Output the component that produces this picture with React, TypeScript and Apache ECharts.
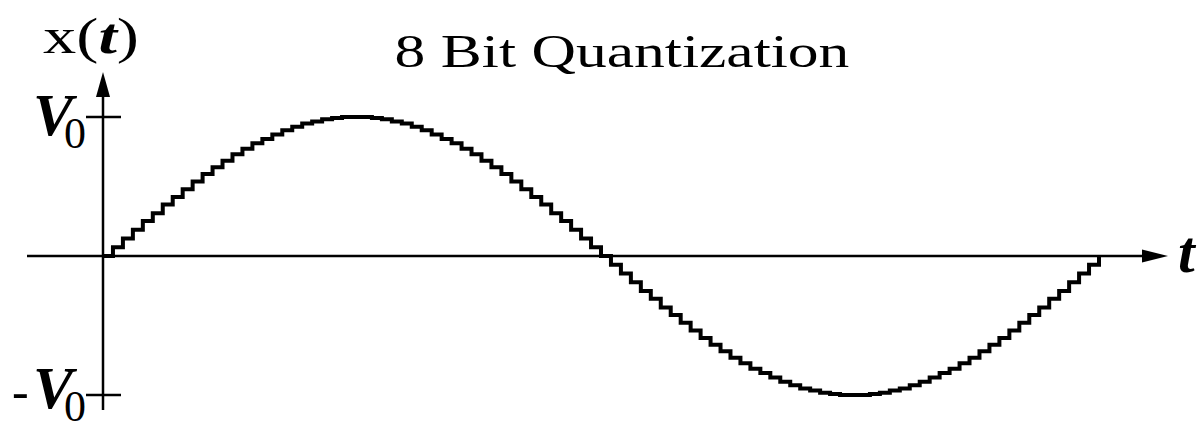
import React, { useEffect, useRef } from "react";
import * as echarts from "echarts";

// Quantized sample levels (8-bit, full scale ±127) over one period, one per sample slot.
const quantLevels = [
  0, 8, 16, 24, 32, 39, 47, 54, 61, 68, 75, 81, 87, 93, 98, 103, 107, 111, 115, 118,
  121, 123, 125, 126, 127, 127, 127, 126, 125, 123, 121, 118, 115, 111, 107, 103, 98,
  93, 87, 81, 75, 68, 61, 54, 47, 39, 32, 24, 16, 8, 0, -8, -16, -24, -32, -39, -47,
  -54, -61, -68, -75, -81, -87, -93, -98, -103, -107, -111, -115, -118, -121, -123,
  -125, -126, -127, -127, -127, -126, -125, -123, -121, -118, -115, -111, -107, -103,
  -98, -93, -87, -81, -75, -68, -61, -54, -47, -39, -32, -24, -16, -8, 0,
];

// Amplitude ticks on the vertical axis.
const amplitudeTicks = [127, -127];
const amplitudeLabels = ["V", "-V"];

const titleText = "8 Bit Quantization";
const xAxisName = "t";

const SERIF = "Liberation Serif";

export default function App() {
  const ref = useRef<HTMLDivElement>(null);

  useEffect(() => {
    if (!ref.current) return;
    const chart = echarts.init(ref.current, undefined, { renderer: "svg" });
    const data = quantLevels.map((v, i) => [i, v]);

    chart.setOption({
      animation: false,
      backgroundColor: "#ffffff",
      grid: { left: 103, right: 100, top: 117, bottom: 27 },
      xAxis: { type: "value", min: 0, max: quantLevels.length - 1, show: false },
      yAxis: { type: "value", min: -127, max: 127, show: false },
      series: [
        {
          type: "line",
          step: "end",
          data,
          symbol: "none",
          z: 5,
          lineStyle: { color: "#000", width: 4, join: "miter" },
        },
      ],
    });

    const [ox, oy] = chart.convertToPixel({ gridIndex: 0 }, [0, 0]);
    const tickYs = amplitudeTicks.map((v) => chart.convertToPixel({ yAxisIndex: 0 }, v) as number);

    const axisStyle = { stroke: "#000", lineWidth: 2.5 };
    const graphics: any[] = [
      // horizontal time axis with arrow
      { type: "line", shape: { x1: 27, y1: oy, x2: 1150, y2: oy }, style: axisStyle, z: 1 },
      {
        type: "polygon",
        shape: { points: [[1168, oy], [1142, oy - 6.5], [1142, oy + 6.5]] },
        style: { fill: "#000" },
        z: 1,
      },
      // vertical amplitude axis with arrow
      { type: "line", shape: { x1: ox, y1: 410, x2: ox, y2: 92 }, style: axisStyle, z: 1 },
      {
        type: "polygon",
        shape: { points: [[ox, 72], [ox - 7, 97], [ox + 7, 97]] },
        style: { fill: "#000" },
        z: 1,
      },
      // title
      {
        type: "text",
        x: 622,
        y: 51,
        scaleX: 1.31,
        style: {
          text: titleText,
          fontFamily: SERIF,
          fontSize: 47,
          fill: "#000",
          align: "center",
          verticalAlign: "middle",
        },
      },
      // vertical axis name x(t)
      {
        type: "text",
        x: 43,
        y: 36,
        scaleX: 1.33,
        style: {
          text: "{a|x(}{b|t}{a|)}",
          fill: "#000",
          align: "left",
          verticalAlign: "middle",
          rich: {
            a: { fontFamily: SERIF, fontSize: 50, fill: "#000" },
            b: { fontFamily: SERIF, fontSize: 50, fontStyle: "italic", fontWeight: "bold", fill: "#000" },
          },
        },
      },
      // horizontal axis name t
      {
        type: "text",
        x: 1178,
        y: 252,
        style: {
          text: xAxisName,
          fontFamily: SERIF,
          fontSize: 60,
          fontStyle: "italic",
          fontWeight: "bold",
          fill: "#000",
          align: "left",
          verticalAlign: "middle",
        },
      },
    ];

    tickYs.forEach((ty, i) => {
      graphics.push({
        type: "line",
        shape: { x1: ox - 17, y1: ty, x2: ox + 18, y2: ty },
        style: axisStyle,
        z: 1,
      });
      const neg = amplitudeLabels[i].startsWith("-");
      const shift = neg ? -5 : 0;
      if (neg) {
        graphics.push({
          type: "text",
          x: 12,
          y: ty - 4,
          style: {
            text: "-",
            fontFamily: SERIF,
            fontSize: 50,
            fill: "#000",
            align: "left",
            verticalAlign: "middle",
          },
        });
      }
      graphics.push({
        type: "text",
        x: 33,
        y: ty - 2 + shift,
        style: {
          text: "V",
          fontFamily: SERIF,
          fontSize: 60,
          fontStyle: "italic",
          fontWeight: "bold",
          fill: "#000",
          align: "left",
          verticalAlign: "middle",
        },
      });
      graphics.push({
        type: "text",
        x: 64,
        y: ty + 16 + shift,
        style: {
          text: "0",
          fontFamily: SERIF,
          fontSize: 44,
          fill: "#000",
          align: "left",
          verticalAlign: "middle",
        },
      });
    });

    chart.setOption({ graphic: graphics });

    return () => chart.dispose();
  }, []);

  return (
    <div
      ref={ref}
      style={{ position: "fixed", left: 0, top: 0, width: 1199, height: 422, background: "#fff" }}
    />
  );
}
